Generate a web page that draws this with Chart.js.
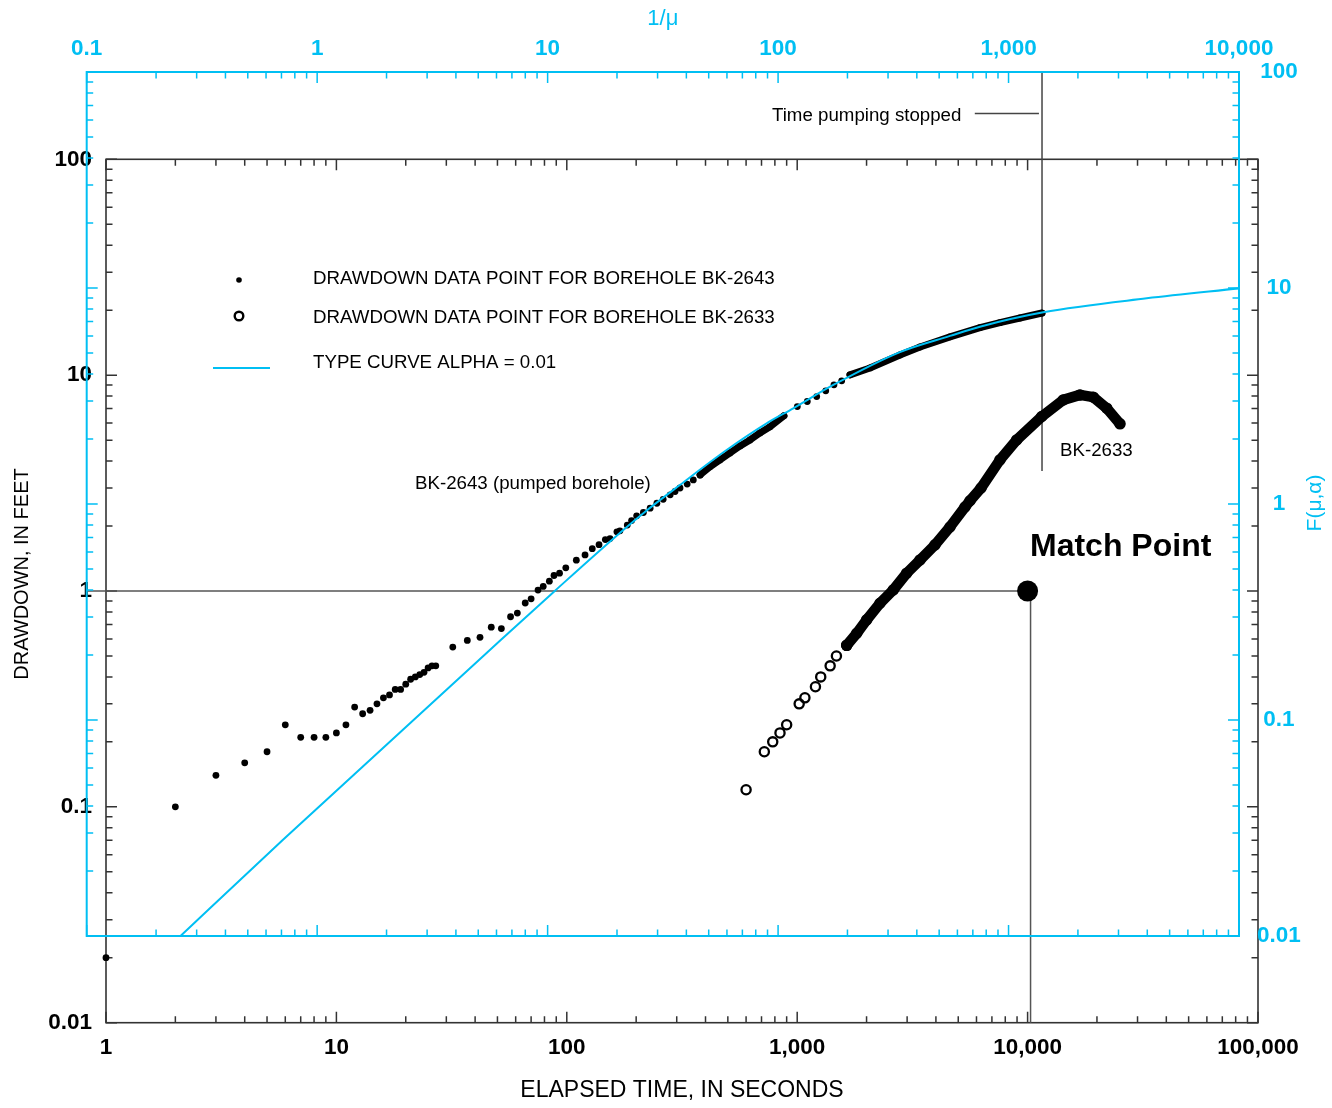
<!DOCTYPE html>
<html>
<head>
<meta charset="utf-8">
<script src="https://cdn.jsdelivr.net/npm/chart.js@4.4.1/dist/chart.umd.min.js"></script>
<style>
html, body { margin: 0; padding: 0; background: #ffffff; }
#wrap { position: relative; width: 1332px; height: 1108px; }
#wrap canvas { position: absolute; left: 0; top: 0; }
</style>
</head>
<body>
<div id="wrap">
  <canvas id="timeChart" width="1332" height="1108"></canvas>
  <canvas id="typeChart" width="1332" height="1108"></canvas>
</div>
<script>
// ---------------- DATA ----------------
// Tick labels
const timeTickValues = [1, 10, 100, 1000, 10000, 100000];
const timeTickLabels = ['1', '10', '100', '1,000', '10,000', '100,000'];
const drawdownTickValues = [0.01, 0.1, 1, 10, 100];
const drawdownTickLabels = ['0.01', '0.1', '1', '10', '100'];
const invUTickValues = [0.1, 1, 10, 100, 1000, 10000];
const invUTickLabels = ['0.1', '1', '10', '100', '1,000', '10,000'];
const fTickValues = [0.01, 0.1, 1, 10, 100];
const fTickLabels = ['0.01', '0.1', '1', '10', '100'];

// BK-2643 (pumped borehole), elapsed time (s) and drawdown (ft) - separated points
const bk2643Time = [1, 2, 3, 4, 5, 6, 7, 8, 9, 10, 11, 12, 13, 14, 15, 16, 17, 18, 19, 20, 21, 22, 23, 24, 25, 26, 27,
  32, 37, 42, 47, 52, 57, 61, 66, 70, 75, 79, 84, 88, 93, 99,
  110, 120, 129, 138, 147, 154, 165, 170, 183, 191, 201, 215, 230, 246, 262, 281, 295, 310, 333, 354, 379,
  1001, 1106, 1215, 1330, 1444, 1560];
const bk2643Drawdown = [0.02, 0.10, 0.14, 0.16, 0.18, 0.24, 0.21, 0.21, 0.21, 0.22, 0.24, 0.29, 0.27, 0.28, 0.30, 0.32, 0.33, 0.35, 0.35, 0.37, 0.39, 0.40, 0.41, 0.42, 0.44, 0.45, 0.45,
  0.55, 0.59, 0.61, 0.68, 0.67, 0.76, 0.79, 0.88, 0.92, 1.01, 1.05, 1.11, 1.18, 1.21, 1.28,
  1.39, 1.47, 1.57, 1.64, 1.73, 1.75, 1.88, 1.90, 2.02, 2.12, 2.23, 2.31, 2.42, 2.55, 2.66, 2.79, 2.89, 3.00, 3.13, 3.27, 3.45,
  7.15, 7.55, 7.96, 8.46, 9.02, 9.41];
// BK-2643 densely sampled stretches (points merge into a band)
const bk2643DenseATime = [379, 418, 462, 511, 565, 624, 689, 762, 876];
const bk2643DenseADrawdown = [3.45, 3.76, 4.05, 4.36, 4.70, 5.01, 5.40, 5.76, 6.48];
const bk2643DenseBTime = [1694, 2070, 2793, 3413, 4605, 6216, 7586, 9268, 11550];
const bk2643DenseBDrawdown = [10.03, 10.8, 12.4, 13.5, 15.05, 16.6, 17.5, 18.4, 19.4];

// BK-2633 (observation borehole)
const bk2633Time = [600, 720, 783, 842, 900, 1020, 1080, 1200, 1265, 1390, 1480, 1640];
const bk2633Drawdown = [0.12, 0.18, 0.20, 0.22, 0.24, 0.30, 0.32, 0.36, 0.40, 0.45, 0.50, 0.56];
const bk2633DenseTime = [1640, 1813, 2002, 2288, 2613, 2988, 3413, 3963, 4605, 5350, 5623, 6278, 7586, 8970, 11514, 14290, 16880, 19280, 22040, 25180];
const bk2633DenseDrawdown = [0.56, 0.637, 0.735, 0.878, 1.012, 1.21, 1.393, 1.636, 1.98, 2.45, 2.62, 3.0, 4.05, 5.01, 6.43, 7.68, 8.1, 7.91, 7.03, 5.95];

// Type curve alpha = 0.01 : 1/u versus F(u, alpha)
const typeCurveInvU = [0.24, 0.709, 6.26, 10.77, 21.3, 26.5, 37.5, 59.8, 89.2, 116.4, 173.6, 338, 557, 751, 1415, 3977, 10090];
const typeCurveF = [0.0094, 0.0278, 0.2346, 0.397, 0.758, 0.921, 1.225, 1.778, 2.363, 2.774, 3.556, 5.05, 6.0, 6.62, 7.72, 8.96, 9.97];

// Annotations (in time / drawdown units)
const matchPointTime = [10000];
const matchPointDrawdown = [1];
const matchHLineTime = [0.83, 10000];
const matchHLineDrawdown = [1, 1];
const matchVLineTime = [10300, 10300];
const matchVLineDrawdown = [1, 0.01];
const pumpStopLineTime = [11550, 11550];
const pumpStopLineDrawdown = [3.6, 254];
const pumpLeaderTime = [5900, 11200];
const pumpLeaderDrawdown = [163, 163];

// ---------------- STYLE ----------------
const FONT = '"Liberation Sans", Arial, Helvetica, sans-serif';
const CYAN = '#00BFF3';
const FRAME = '#333333';
const W = 1332, H = 1108;

function pts(xs, ys) { return xs.map((x, i) => ({ x: x, y: ys[i] })); }

function makeTicks(majors) {
  const out = [];
  for (let i = 0; i < majors.length; i++) {
    out.push({ value: majors[i], major: true });
    if (i < majors.length - 1) {
      for (let k = 2; k <= 9; k++) out.push({ value: majors[i] * k, major: false });
    }
  }
  return out;
}
function labelFor(values, labels) {
  return function (v) {
    for (let i = 0; i < values.length; i++) {
      if (Math.abs(v - values[i]) < values[i] * 1e-9) return labels[i];
    }
    return '';
  };
}

function framePlugin(id, color, lw, xId, yId) {
  return {
    id: id,
    beforeDatasetsDraw(chart) {
      const ctx = chart.ctx, ca = chart.chartArea;
      const xs = chart.scales[xId], ys = chart.scales[yId];
      ctx.save();
      ctx.strokeStyle = color;
      ctx.lineWidth = lw;
      ctx.strokeRect(ca.left, ca.top, ca.right - ca.left, ca.bottom - ca.top);
      ctx.lineWidth = 1.5;
      ctx.beginPath();
      xs.ticks.forEach(t => {
        const px = xs.getPixelForValue(t.value);
        const len = t.major ? 11 : 6.5;
        ctx.moveTo(px, ca.top); ctx.lineTo(px, ca.top + len);
        ctx.moveTo(px, ca.bottom); ctx.lineTo(px, ca.bottom - len);
      });
      ys.ticks.forEach(t => {
        const py = ys.getPixelForValue(t.value);
        const len = t.major ? 11 : 6.5;
        ctx.moveTo(ca.left, py); ctx.lineTo(ca.left + len, py);
        ctx.moveTo(ca.right, py); ctx.lineTo(ca.right - len, py);
      });
      ctx.stroke();
      ctx.restore();
    }
  };
}

const annotationText = {
  id: 'annotationText',
  afterDatasetsDraw(chart) {
    const ctx = chart.ctx;
    ctx.save();
    ctx.textBaseline = 'middle';
    ctx.textAlign = 'left';
    ctx.fillStyle = '#000';
    ctx.font = '18.7px ' + FONT;
    ctx.fillText('DRAWDOWN DATA POINT FOR BOREHOLE BK-2643', 313, 279);
    ctx.fillText('DRAWDOWN DATA POINT FOR BOREHOLE BK-2633', 313, 318);
    ctx.fillText('TYPE CURVE ALPHA = 0.01', 313, 363);
    ctx.fillText('BK-2643 (pumped borehole)', 415, 484);
    ctx.fillText('BK-2633', 1060, 451);
    ctx.fillText('Time pumping stopped', 772, 116);
    ctx.font = 'bold 32px ' + FONT;
    ctx.fillText('Match Point', 1030, 547);
    // legend glyphs
    ctx.beginPath(); ctx.arc(239, 280, 2.8, 0, Math.PI * 2); ctx.fill();
    ctx.beginPath(); ctx.arc(239, 316, 4.3, 0, Math.PI * 2);
    ctx.lineWidth = 2.4; ctx.strokeStyle = '#000'; ctx.stroke();
    ctx.beginPath(); ctx.moveTo(213, 368); ctx.lineTo(270, 368);
    ctx.lineWidth = 2; ctx.strokeStyle = CYAN; ctx.stroke();
    // left axis title
    ctx.save();
    ctx.translate(22, 574);
    ctx.rotate(-Math.PI / 2);
    ctx.textAlign = 'center';
    ctx.font = '20px ' + FONT;
    ctx.fillText('DRAWDOWN, IN FEET', 0, 0);
    ctx.restore();
    ctx.restore();
  }
};

const typeTitle = {
  id: 'typeTitle',
  afterDraw(chart) {
    const ctx = chart.ctx;
    ctx.save();
    ctx.translate(1315, 503);
    ctx.rotate(-Math.PI / 2);
    ctx.textAlign = 'center';
    ctx.textBaseline = 'middle';
    ctx.fillStyle = CYAN;
    ctx.font = '21px ' + FONT;
    ctx.fillText('F(\u03BC,\u03B1)', 0, 0);
    ctx.restore();
  }
};

// ---------------- TIME / DRAWDOWN CHART (black) ----------------
const tickFont = { family: FONT, size: 22.5, weight: 'bold' };

new Chart(document.getElementById('timeChart'), {
  type: 'scatter',
  data: {
    datasets: [
      { label: 'Match point', data: pts(matchPointTime, matchPointDrawdown), pointRadius: 10.5, backgroundColor: '#000', borderWidth: 0, clip: false },
      { label: 'BK-2643', data: pts(bk2643Time, bk2643Drawdown), pointRadius: 3.4, backgroundColor: '#000', borderWidth: 0, clip: false },
      { label: 'BK-2643 dense A', data: pts(bk2643DenseATime, bk2643DenseADrawdown), showLine: true, borderColor: '#000', borderWidth: 7, borderCapStyle: 'round', borderJoinStyle: 'round', pointRadius: 3.4, backgroundColor: '#000', pointBorderWidth: 0, clip: false },
      { label: 'BK-2643 dense B', data: pts(bk2643DenseBTime, bk2643DenseBDrawdown), showLine: true, borderColor: '#000', borderWidth: 7, borderCapStyle: 'round', borderJoinStyle: 'round', pointRadius: 3.4, backgroundColor: '#000', pointBorderWidth: 0, clip: false },
      { label: 'BK-2633', data: pts(bk2633Time, bk2633Drawdown), pointRadius: 4.6, borderColor: '#000', borderWidth: 2.3, backgroundColor: 'rgba(0,0,0,0)', clip: false },
      { label: 'BK-2633 dense', data: pts(bk2633DenseTime, bk2633DenseDrawdown), showLine: true, borderColor: '#000', borderWidth: 10.5, borderCapStyle: 'round', borderJoinStyle: 'round', pointRadius: 4.6, pointBorderColor: '#000', pointBorderWidth: 2.3, pointBackgroundColor: 'rgba(0,0,0,0)', clip: false },
      { label: 'match h', data: pts(matchHLineTime, matchHLineDrawdown), showLine: true, borderColor: '#555', borderWidth: 1.5, pointRadius: 0, clip: false },
      { label: 'match v', data: pts(matchVLineTime, matchVLineDrawdown), showLine: true, borderColor: '#555', borderWidth: 1.5, pointRadius: 0, clip: false },
      { label: 'pump stop', data: pts(pumpStopLineTime, pumpStopLineDrawdown), showLine: true, borderColor: '#444', borderWidth: 1.5, pointRadius: 0, clip: false },
      { label: 'pump leader', data: pts(pumpLeaderTime, pumpLeaderDrawdown), showLine: true, borderColor: '#444', borderWidth: 1.5, pointRadius: 0, clip: false }
    ]
  },
  options: {
    responsive: false, animation: false, devicePixelRatio: 1, events: [],
    layout: { padding: { left: 0, top: 159.3, right: W - 1258, bottom: 0 } },
    plugins: { legend: { display: false }, tooltip: { enabled: false } },
    scales: {
      x: {
        type: 'logarithmic', position: 'bottom', min: 1, max: 100000,
        afterBuildTicks: s => { s.ticks = makeTicks(timeTickValues); },
        afterFit: s => { s.height = H - 1022.7; },
        grid: { display: false, drawTicks: false }, border: { display: false },
        ticks: { autoSkip: false, maxRotation: 0, minRotation: 0, padding: 12, color: '#000', font: tickFont,
          callback: labelFor(timeTickValues, timeTickLabels) },
        title: { display: true, text: 'ELAPSED TIME, IN SECONDS', color: '#000', font: { family: FONT, size: 23 }, padding: { top: 0, bottom: 4 } }
      },
      y: {
        type: 'logarithmic', position: 'left', min: 0.01, max: 100,
        afterBuildTicks: s => { s.ticks = makeTicks(drawdownTickValues); },
        afterFit: s => { s.width = 106; },
        grid: { display: false, drawTicks: false }, border: { display: false },
        ticks: { autoSkip: false, padding: 14, color: '#000', font: tickFont,
          callback: labelFor(drawdownTickValues, drawdownTickLabels) }
      }
    }
  },
  plugins: [framePlugin('blackFrame', FRAME, 1.6, 'x', 'y'), annotationText]
});

// ---------------- TYPE CURVE CHART (cyan) ----------------
new Chart(document.getElementById('typeChart'), {
  type: 'scatter',
  data: {
    datasets: [
      { label: 'TYPE CURVE ALPHA = 0.01', data: pts(typeCurveInvU, typeCurveF), showLine: true, borderColor: CYAN, borderWidth: 2, pointRadius: 0, cubicInterpolationMode: 'monotone' }
    ]
  },
  options: {
    responsive: false, animation: false, devicePixelRatio: 1, events: [],
    layout: { padding: { left: 86.7, top: 0, right: 0, bottom: H - 936 } },
    plugins: { legend: { display: false }, tooltip: { enabled: false } },
    scales: {
      x: {
        type: 'logarithmic', position: 'top', min: 0.1, max: 10000,
        afterBuildTicks: s => { s.ticks = makeTicks(invUTickValues); },
        afterFit: s => { s.height = 72; },
        grid: { display: false, drawTicks: false }, border: { display: false },
        ticks: { autoSkip: false, maxRotation: 0, minRotation: 0, padding: 9.5, color: CYAN, font: tickFont,
          callback: labelFor(invUTickValues, invUTickLabels) },
        title: { display: true, text: '1/\u03BC', color: CYAN, font: { family: FONT, size: 22 }, padding: { top: 6, bottom: 0 } }
      },
      y: {
        type: 'logarithmic', position: 'right', min: 0.01, max: 100,
        afterBuildTicks: s => { s.ticks = makeTicks(fTickValues); },
        afterFit: s => { s.width = W - 1239; },
        grid: { display: false, drawTicks: false }, border: { display: false },
        ticks: { autoSkip: false, padding: 18, crossAlign: 'center', color: CYAN, font: tickFont,
          callback: labelFor(fTickValues, fTickLabels) }
      }
    }
  },
  plugins: [framePlugin('cyanFrame', CYAN, 2, 'x', 'y'), typeTitle]
});
</script>
</body>
</html>
